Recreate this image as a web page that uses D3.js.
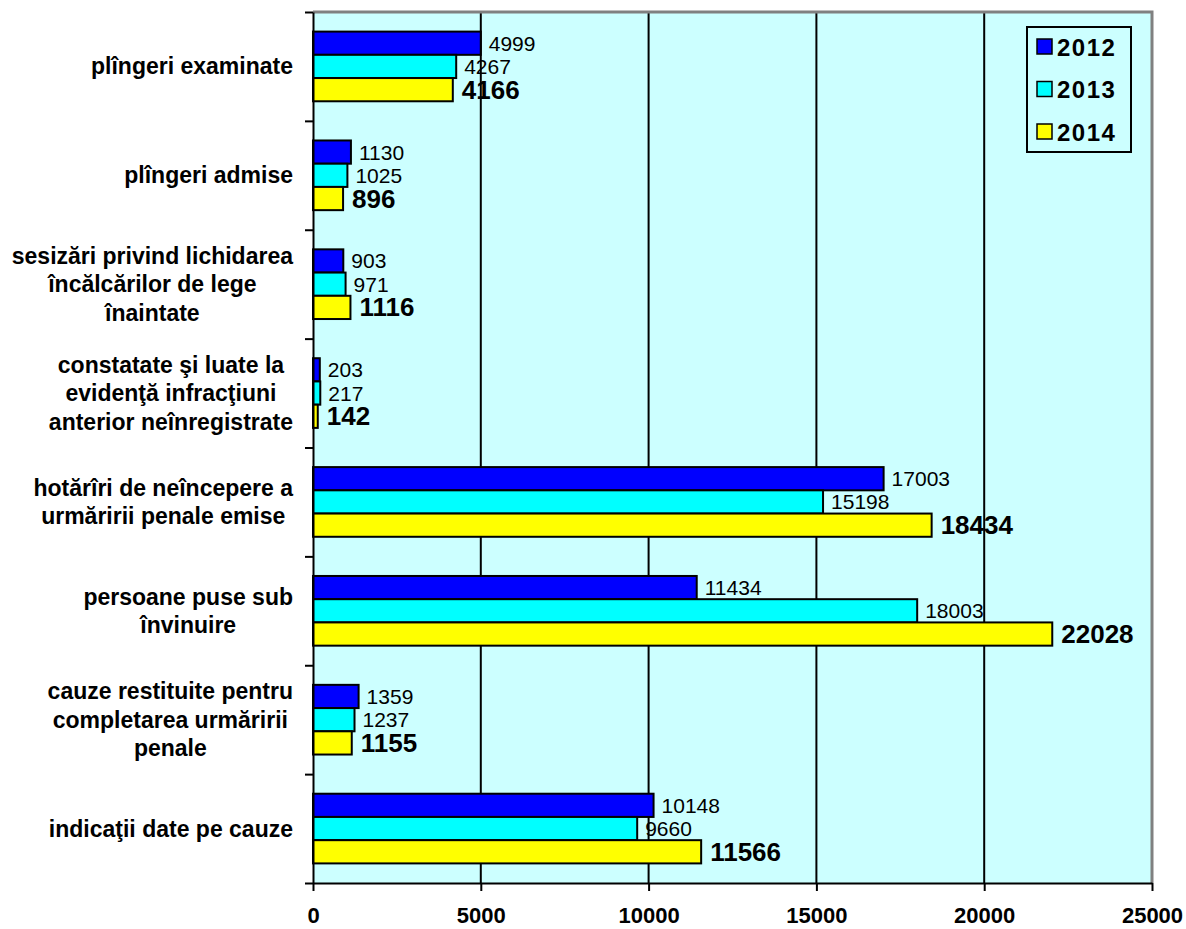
<!DOCTYPE html>
<html lang="ro">
<head>
<meta charset="UTF-8">
<title>Grafic</title>
<script src="https://d3js.org/d3.v7.min.js"></script>
<style>
    body { margin: 0; background: #fff; }
    svg text { font-family: "Liberation Sans", Arial, sans-serif; fill: #000; }
</style>
</head>
<body>
<div id="chart"></div>
<script>
// categories (label lines) and values per year
var categories = [
    ["plîngeri examinate"],
    ["plîngeri admise"],
    ["sesizări privind lichidarea", "încălcărilor de lege", "înaintate"],
    ["constatate şi luate la", "evidenţă infracţiuni", "anterior neînregistrate"],
    ["hotărîri de neîncepere a", "urmăririi penale emise"],
    ["persoane puse sub", "învinuire"],
    ["cauze restituite pentru", "completarea urmăririi", "penale"],
    ["indicaţii date pe cauze"]
];
var years = ["2012", "2013", "2014"];
var values2012 = [4999, 1130, 903, 203, 17003, 11434, 1359, 10148];
var values2013 = [4267, 1025, 971, 217, 15198, 18003, 1237, 9660];
var values2014 = [4166, 896, 1116, 142, 18434, 22028, 1155, 11566];
var xTicks = [0, 5000, 10000, 15000, 20000, 25000];
var colors = ["#0000ff", "#00ffff", "#ffff00"];

var series = [values2012, values2013, values2014];

// layout
var margin = {top: 12, right: 34, bottom: 46, left: 313},
    width = 1186 - margin.left - margin.right,
    height = 929 - margin.top - margin.bottom;

var svg = d3.select("#chart").append("svg")
    .attr("width", 1186)
    .attr("height", 929);
var g = svg.append("g")
    .attr("transform", "translate(" + margin.left + "," + margin.top + ")");

var x = d3.scaleLinear().domain([0, 25000]).range([0, width]);
var y = d3.scaleBand().domain(d3.range(categories.length))
    .range([0, height]).paddingInner(0.36).paddingOuter(0.18);
var yInner = d3.scaleBand().domain(years).range([0, y.bandwidth()]);
var yEdges = d3.scaleLinear().domain([0, categories.length]).range([0, height]);

// plot background
g.append("rect")
    .attr("width", width).attr("height", height)
    .attr("fill", "#ccffff");

// vertical gridlines
g.selectAll(".grid").data(xTicks.slice(1, -1)).enter().append("line")
    .attr("x1", function (d) { return x(d); })
    .attr("x2", function (d) { return x(d); })
    .attr("y1", 0).attr("y2", height)
    .attr("stroke", "#000").attr("stroke-width", 2);

// top / right border
g.append("path")
    .attr("d", "M0,0H" + width + "V" + height)
    .attr("fill", "none").attr("stroke", "#808080").attr("stroke-width", 3);

// bars
var rows = [];
categories.forEach(function (c, i) {
    years.forEach(function (yr, j) {
        rows.push({cat: i, year: yr, idx: j, value: series[j][i]});
    });
});

g.selectAll(".bar").data(rows).enter().append("rect")
    .attr("x", 0)
    .attr("y", function (d) { return y(d.cat) + yInner(d.year); })
    .attr("width", function (d) { return x(d.value); })
    .attr("height", yInner.bandwidth())
    .attr("fill", function (d) { return colors[d.idx]; })
    .attr("stroke", "#000").attr("stroke-width", 2);

// value labels
g.selectAll(".val").data(rows).enter().append("text")
    .attr("x", function (d) { return x(d.value) + (d.idx === 2 ? 9 : 8); })
    .attr("y", function (d) { return y(d.cat) + yInner(d.year) + yInner.bandwidth() / 2; })
    .attr("dominant-baseline", "central")
    .style("font-size", function (d) { return d.idx === 2 ? "26px" : "21px"; })
    .style("font-weight", function (d) { return d.idx === 2 ? "bold" : "normal"; })
    .text(function (d) { return d.value; });

// x axis
var xAxis = g.append("g")
    .attr("transform", "translate(0," + height + ")")
    .call(d3.axisBottom(x).tickValues(xTicks).tickFormat(d3.format("d"))
        .tickSize(8).tickPadding(16).tickSizeOuter(0));
xAxis.select(".domain").attr("stroke", "#000").attr("stroke-width", 2);
xAxis.selectAll(".tick line").attr("stroke-width", 2);
xAxis.selectAll(".tick text")
    .style("font-size", "22px").style("font-weight", "bold")
    .attr("dy", "0.71em");

// y axis (ticks at category boundaries)
var yAxis = g.append("g")
    .call(d3.axisLeft(yEdges).ticks(categories.length).tickSize(8).tickFormat("").tickSizeOuter(0));
yAxis.select(".domain").attr("stroke", "#000").attr("stroke-width", 2);
yAxis.selectAll(".tick line").attr("stroke-width", 2);

// category labels: lines centred, block right edge at -20
var lineH = 28.5;
categories.forEach(function (lines, i) {
    var cy = y(i) + y.bandwidth() / 2;
    var t = g.append("text")
        .style("font-size", "23px").style("font-weight", "bold")
        .attr("text-anchor", "middle");
    lines.forEach(function (ln, k) {
        t.append("tspan")
            .attr("y", cy + (k - (lines.length - 1) / 2) * lineH)
            .attr("dominant-baseline", "central")
            .text(ln);
    });
    var maxW = 0;
    t.selectAll("tspan").each(function () {
        maxW = Math.max(maxW, this.getComputedTextLength());
    });
    t.selectAll("tspan").attr("x", -20 - maxW / 2);
});

// legend
var legend = svg.append("g").attr("transform", "translate(1027,27)");
legend.append("rect")
    .attr("width", 104).attr("height", 125)
    .attr("fill", "#ccffff").attr("stroke", "#000").attr("stroke-width", 2);
var li = legend.selectAll(".li").data(years).enter().append("g")
    .attr("transform", function (d, i) { return "translate(10," + (20 + i * 42.5) + ")"; });
li.append("rect")
    .attr("x", 0).attr("y", -8).attr("width", 15).attr("height", 15)
    .attr("fill", function (d, i) { return colors[i]; })
    .attr("stroke", "#000").attr("stroke-width", 1.5);
li.append("text")
    .attr("x", 20).attr("y", 0)
    .attr("dominant-baseline", "central")
    .style("font-size", "24px").style("font-weight", "bold")
    .style("letter-spacing", "1.5px")
    .text(function (d) { return d; });
</script>
</body>
</html>
